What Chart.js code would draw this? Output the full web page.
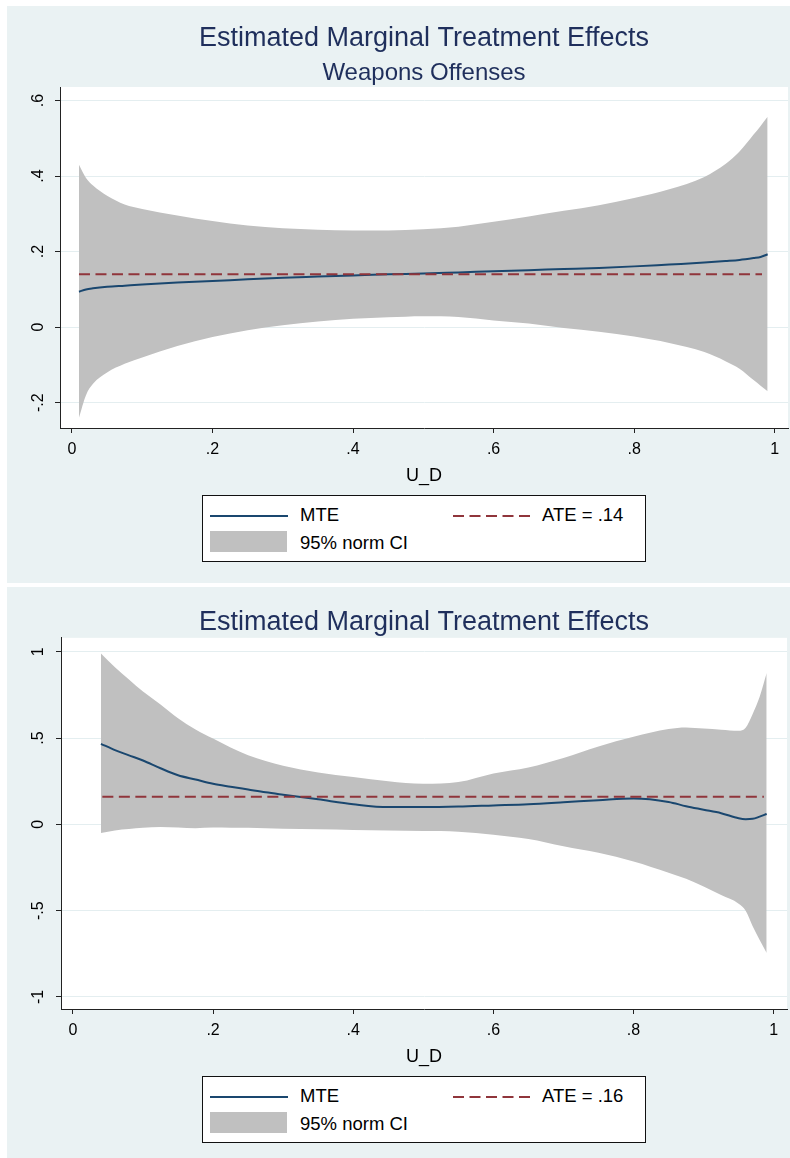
<!DOCTYPE html>
<html>
<head>
<meta charset="utf-8">
<script src="https://cdn.jsdelivr.net/npm/chart.js@4.4.1/dist/chart.umd.min.js"></script>
<style>
  body { margin: 0; background: #fff; width: 790px; height: 1158px; position: relative; overflow: hidden;
         font-family: "Liberation Sans", Arial, sans-serif; }
  .panel { position: absolute; left: 7px; width: 783px; background: #eaf2f3; }
  .panel canvas { position: absolute; left: 0; top: 0; }
  .legend { position: absolute; left: 195px; width: 444px; height: 67px; background: #fff;
            border: 1px solid #111; box-sizing: border-box; font-size: 18.5px; color: #000; }
  .legend .txt { position: absolute; line-height: 20px; white-space: nowrap; }
  .legend svg { position: absolute; }
  .legend .ci { position: absolute; background: #c0c0c0; }
</style>
</head>
<body>

<div class="panel" id="panel1" style="top:6px;height:577px">
  <canvas id="mte1" width="783" height="577"></canvas>
  <div class="legend" style="top:489px">
    <svg style="left:7px;top:18px" width="78" height="4"><line x1="0" y1="2" x2="78" y2="2" stroke="#1a476f" stroke-width="2"/></svg>
    <div class="txt" style="left:97px;top:9px">MTE</div>
    <svg style="left:250px;top:18px" width="78" height="4"><line x1="0" y1="2" x2="78" y2="2" stroke="#90353b" stroke-width="2" stroke-dasharray="11 5.5"/></svg>
    <div class="txt" style="left:339px;top:9px" id="ateLabel1"></div>
    <div class="ci" style="left:7px;top:35px;width:77px;height:21px"></div>
    <div class="txt" style="left:97px;top:37px">95% norm CI</div>
  </div>
</div>

<div class="panel" id="panel2" style="top:587px;height:571px">
  <canvas id="mte2" width="783" height="571"></canvas>
  <div class="legend" style="top:489px">
    <svg style="left:7px;top:18px" width="78" height="4"><line x1="0" y1="2" x2="78" y2="2" stroke="#1a476f" stroke-width="2"/></svg>
    <div class="txt" style="left:97px;top:9px">MTE</div>
    <svg style="left:250px;top:18px" width="78" height="4"><line x1="0" y1="2" x2="78" y2="2" stroke="#90353b" stroke-width="2" stroke-dasharray="11 5.5"/></svg>
    <div class="txt" style="left:339px;top:9px" id="ateLabel2"></div>
    <div class="ci" style="left:7px;top:35px;width:77px;height:21px"></div>
    <div class="txt" style="left:97px;top:37px">95% norm CI</div>
  </div>
</div>

<script>
// top panel: Weapons Offenses
const u1 = [0.01, 0.02, 0.03, 0.05, 0.075, 0.1, 0.15, 0.2, 0.25, 0.3, 0.35, 0.4, 0.45, 0.5,
            0.55, 0.6, 0.65, 0.7, 0.75, 0.8, 0.85, 0.9, 0.93, 0.95, 0.97, 0.98, 0.99];
const upper1 = [0.43, 0.395, 0.375, 0.348, 0.325, 0.313, 0.296, 0.281, 0.269, 0.262, 0.258, 0.256, 0.256, 0.259,
                0.266, 0.279, 0.293, 0.308, 0.323, 0.342, 0.365, 0.398, 0.432, 0.465, 0.51, 0.533, 0.557];
const lower1 = [-0.24, -0.18, -0.15, -0.12, -0.097, -0.08, -0.05, -0.026, -0.008, 0.005, 0.015, 0.022, 0.026, 0.029,
                0.027, 0.018, 0.01, -0.002, -0.012, -0.025, -0.042, -0.066, -0.09, -0.11, -0.14, -0.155, -0.17];
const mte1 = [0.094, 0.1, 0.103, 0.107, 0.11, 0.113, 0.118, 0.122, 0.127, 0.131, 0.134, 0.137, 0.14, 0.142,
              0.145, 0.148, 0.151, 0.154, 0.157, 0.161, 0.166, 0.171, 0.175, 0.178, 0.183, 0.186, 0.193];
const ate1 = 0.14;
const ateSpan1 = [0.01, 0.982];
const yTicks1 = [-0.2, 0, 0.2, 0.4, 0.6];

// bottom panel
const u2 = [0.04, 0.06, 0.08, 0.1, 0.125, 0.15, 0.175, 0.2, 0.225, 0.25, 0.275, 0.3, 0.35, 0.4, 0.45, 0.5, 0.55,
            0.6, 0.65, 0.7, 0.75, 0.8, 0.85, 0.875, 0.9, 0.925, 0.95, 0.96, 0.97, 0.98, 0.99];
const upper2 = [0.99, 0.91, 0.84, 0.77, 0.695, 0.615, 0.55, 0.497, 0.445, 0.4, 0.368, 0.34, 0.3, 0.274, 0.25, 0.235, 0.245,
                0.295, 0.33, 0.385, 0.452, 0.508, 0.553, 0.562, 0.555, 0.548, 0.542, 0.56, 0.64, 0.74, 0.877];
const lower2 = [-0.05, -0.035, -0.027, -0.02, -0.015, -0.018, -0.022, -0.018, -0.019, -0.02, -0.023, -0.026, -0.028, -0.032, -0.036, -0.039, -0.043,
                -0.06, -0.085, -0.127, -0.165, -0.215, -0.28, -0.315, -0.36, -0.41, -0.46, -0.5, -0.59, -0.67, -0.745];
const mte2 = [0.467, 0.43, 0.4, 0.37, 0.325, 0.285, 0.26, 0.235, 0.218, 0.202, 0.186, 0.172, 0.145, 0.117, 0.1, 0.1, 0.103,
              0.11, 0.117, 0.128, 0.14, 0.15, 0.13, 0.105, 0.085, 0.065, 0.035, 0.03, 0.032, 0.045, 0.06];
const ate2 = 0.16;
const ateSpan2 = [0.042, 0.986];
const yTicks2 = [-1, -0.5, 0, 0.5, 1];

const xTicks = [0, 0.2, 0.4, 0.6, 0.8, 1];

const FONT = "'Liberation Sans', Arial, sans-serif";

// stata style: .2, -.5, 0, 1
function stataLabel(v) {
  return String(+v.toFixed(2)).replace(/^(-?)0\./, "$1.");
}

function pts(xs, ys) {
  return xs.map((x, i) => ({ x, y: ys[i] }));
}

const plotBg = {
  id: "plotBg",
  beforeDraw(chart) {
    const { ctx, chartArea: a } = chart;
    ctx.save();
    ctx.fillStyle = "#fff";
    ctx.fillRect(a.left, a.top, a.right - a.left, a.bottom - a.top);
    ctx.restore();
  }
};

function buildChart(id, o) {
  return new Chart(document.getElementById(id), {
    type: "line",
    data: {
      datasets: [
        {
          label: "ATE = " + stataLabel(o.ate),
          data: o.ateSpan.map(x => ({ x, y: o.ate })),
          borderColor: "#90353b",
          borderWidth: 2,
          borderDash: [11, 5.5],
          pointRadius: 0,
          fill: false
        },
        {
          label: "MTE",
          data: pts(o.u, o.mte),
          borderColor: "#1a476f",
          borderWidth: 2,
          pointRadius: 0,
          fill: false,
          cubicInterpolationMode: "monotone"
        },
        {
          label: "95% norm CI",
          data: pts(o.u, o.upper),
          borderWidth: 0,
          borderColor: "rgba(0,0,0,0)",
          backgroundColor: "#c0c0c0",
          pointRadius: 0,
          fill: "+1",
          cubicInterpolationMode: "monotone"
        },
        {
          label: "lower",
          data: pts(o.u, o.lower),
          borderWidth: 0,
          borderColor: "rgba(0,0,0,0)",
          pointRadius: 0,
          fill: false,
          cubicInterpolationMode: "monotone"
        }
      ]
    },
    options: {
      responsive: false,
      animation: false,
      layout: { padding: { left: 0, right: o.padRight, top: 0, bottom: o.padBottom } },
      plugins: {
        legend: { display: false },
        tooltip: { enabled: false },
        title: {
          display: true,
          fullSize: false,
          text: "Estimated Marginal Treatment Effects",
          color: "#1f2f5c",
          font: { family: FONT, size: 27, weight: "normal", lineHeight: 1.1 },
          padding: o.titlePad
        },
        subtitle: {
          display: !!o.subtitle,
          fullSize: false,
          text: o.subtitle || "",
          color: "#1f2f5c",
          font: { family: FONT, size: 24, weight: "normal", lineHeight: 1.1 },
          padding: { top: 5.95, bottom: 0.8 }
        }
      },
      scales: {
        x: {
          type: "linear",
          min: -0.017,
          max: 1.019,
          afterBuildTicks: s => { s.ticks = xTicks.map(v => ({ value: v })); },
          afterFit: s => { s.height = 58.8; },
          grid: { drawOnChartArea: false, drawTicks: true, tickLength: 5, tickColor: "#222", tickWidth: 1 },
          border: { display: true, color: "#222", width: 1 },
          ticks: {
            padding: 7.4,
            color: "#000",
            autoSkip: false,
            maxRotation: 0,
            font: { family: FONT, size: 16 },
            callback: v => stataLabel(v)
          },
          title: {
            display: true,
            text: "U_D",
            color: "#000",
            font: { family: FONT, size: 18, lineHeight: 1.2 },
            padding: { top: 0, bottom: 0 }
          }
        },
        y: {
          type: "linear",
          min: o.yMin,
          max: o.yMax,
          afterBuildTicks: s => { s.ticks = o.yTicks.map(v => ({ value: v })); },
          afterFit: s => { s.width = o.yWidth; },
          grid: { color: "#e4eef0", lineWidth: 1, drawTicks: true, tickLength: 5, tickColor: "#222", tickWidth: 1 },
          border: { display: true, color: "#222", width: 1 },
          ticks: {
            padding: o.yPad,
            color: "#000",
            autoSkip: false,
            minRotation: 90,
            maxRotation: 90,
            crossAlign: "center",
            font: { family: FONT, size: 16 },
            callback: v => stataLabel(v)
          }
        }
      }
    },
    plugins: [plotBg]
  });
}

buildChart("mte1", {
  u: u1, upper: upper1, lower: lower1, mte: mte1,
  ate: ate1, ateSpan: ateSpan1, yTicks: yTicks1,
  yMin: -0.267, yMax: 0.636,
  subtitle: "Weapons Offenses",
  titlePad: { top: 18.15, bottom: 0 },
  padRight: 2, padBottom: 96.2, yWidth: 53, yPad: 7.15
});

buildChart("mte2", {
  u: u2, upper: upper2, lower: lower2, mte: mte2,
  ate: ate2, ateSpan: ateSpan2, yTicks: yTicks2,
  yMin: -1.07, yMax: 1.081,
  subtitle: null,
  titlePad: { top: 21.15, bottom: 0 },
  padRight: 3, padBottom: 90.2, yWidth: 54, yPad: 8.15
});

document.getElementById("ateLabel1").textContent = "ATE = " + stataLabel(ate1);
document.getElementById("ateLabel2").textContent = "ATE = " + stataLabel(ate2);
</script>
</body>
</html>
